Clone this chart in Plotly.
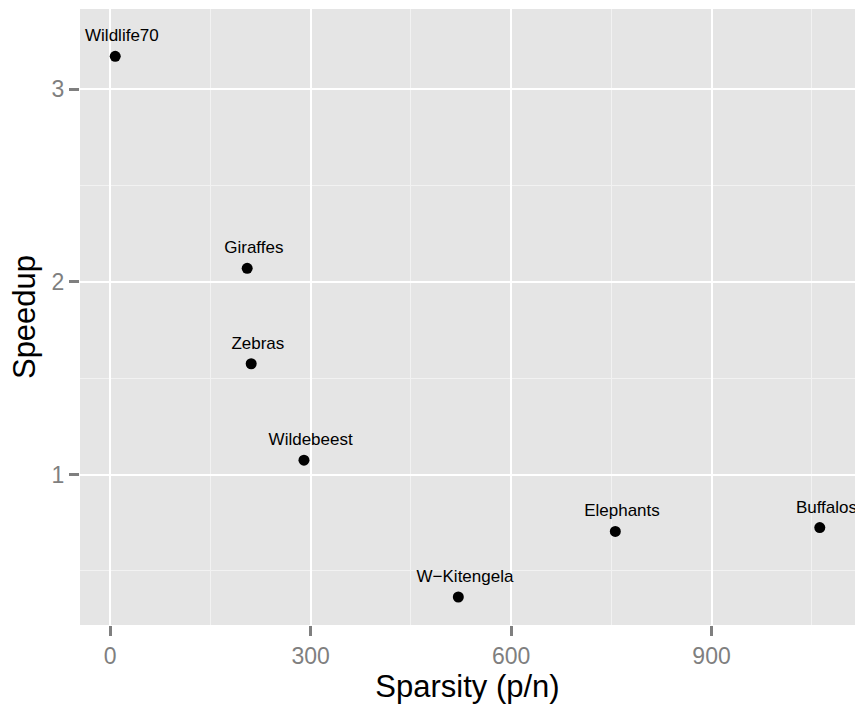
import plotly.graph_objects as go

names = ["Wildlife70", "Giraffes", "Zebras", "Wildebeest", "W\u2212Kitengela", "Elephants", "Buffalos"]
sparsity = [7.5, 205, 211, 290, 521, 756, 1062]
speedup = [3.17, 2.07, 1.575, 1.075, 0.365, 0.705, 0.725]
label_nudge_y = 0.1
label_nudge_x = 10

x_ticks = [0, 300, 600, 900]
y_ticks = [1, 2, 3]

label_y = [v + label_nudge_y for v in speedup]
label_x = [v + label_nudge_x for v in sparsity]

FONT = "Liberation Sans, Arial, sans-serif"

fig = go.Figure()
fig.add_trace(go.Scatter(
    x=sparsity, y=speedup, mode="markers",
    marker=dict(color="black", size=11), hoverinfo="skip", showlegend=False))
fig.add_trace(go.Scatter(
    x=label_x, y=label_y, mode="text", text=names, textposition="middle center",
    textfont=dict(family=FONT, size=17, color="black"),
    showlegend=False, hoverinfo="skip", cliponaxis=True))

xmin, xmax = min(sparsity), max(sparsity)
ymin, ymax = min(speedup), max(label_y)
xr = [xmin - 0.05 * (xmax - xmin), xmax + 0.05 * (xmax - xmin)]
yr = [ymin - 0.05 * (ymax - ymin), ymax + 0.05 * (ymax - ymin)]

axis_common = dict(
    showline=False, zeroline=False, showgrid=True, gridcolor="white", gridwidth=2.2,
    ticks="outside", ticklen=10, tickwidth=2.5, tickcolor="#7f7f7f",
    tickfont=dict(family=FONT, size=23, color="#7f7f7f"),
    title_font=dict(family=FONT, size=31, color="black"),
)

fig.update_layout(
    width=855, height=704,
    margin=dict(l=80, r=0, t=9, b=79),
    paper_bgcolor="white", plot_bgcolor="#E5E5E5",
    xaxis=dict(range=xr, tickvals=x_ticks, ticktext=[str(v) for v in x_ticks],
               minor=dict(dtick=300, tick0=150, showgrid=True, gridcolor="#F2F2F2", gridwidth=1.1, ticks=""),
               title=dict(text="Sparsity (p/n)", standoff=3), **axis_common),
    yaxis=dict(range=yr, tickvals=y_ticks, ticktext=[str(v) for v in y_ticks],
               minor=dict(dtick=1, tick0=0.5, showgrid=True, gridcolor="#F2F2F2", gridwidth=1.1, ticks=""),
               title=dict(text="Speedup", standoff=6), **axis_common),
)

fig.write_html("out.html", config={"displayModeBar": False},
               post_script="document.body.style.margin='0';")
